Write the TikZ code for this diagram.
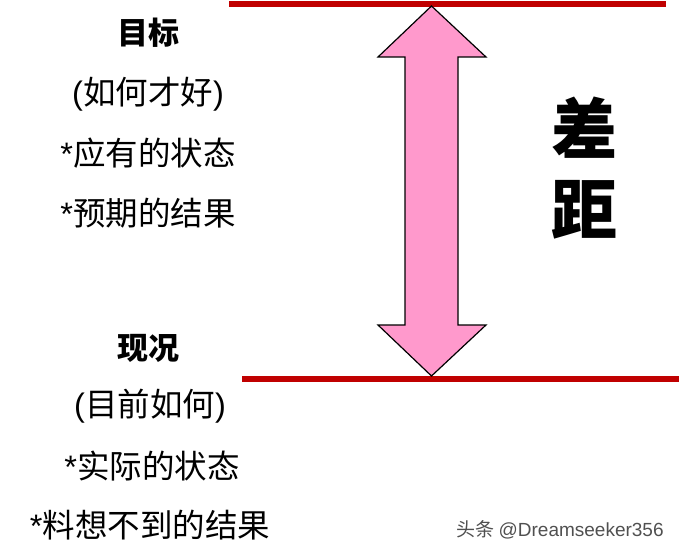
\documentclass[tikz,border=0pt]{standalone}
\usepackage{fontspec}
\newfontfamily\cjk{Noto Sans CJK SC}
\newfontfamily\latinsans{Liberation Sans}
\newcommand{\lat}[1]{{\latinsans #1}}
\definecolor{barred}{HTML}{C00000}
\definecolor{arrowpink}{HTML}{FF99CC}
\definecolor{wmgray}{HTML}{505050}
\begin{document}
\begin{tikzpicture}[x=1pt,y=-1pt,
  level/.style={draw=barred,line width=5.5pt},
  title/.style={inner sep=0pt,font=\cjk\bfseries\fontsize{31}{36}\selectfont},
  body/.style={inner sep=0pt,font=\cjk\fontsize{32.5}{36}\selectfont},
  gap/.style={inner sep=0pt,font=\cjk\bfseries\fontsize{66}{72}\selectfont},
  bigarrow/.style={draw=black,line width=1.2pt,fill=arrowpink,line join=miter}]
\useasboundingbox (0,0) rectangle (680,556);
% levels
\coordinate (tl) at (229,4);
\coordinate (tr) at (666,4);
\coordinate (bl) at (242,379);
\coordinate (br) at (679,379);
\draw[level] (tl) -- (tr);
\draw[level] (bl) -- (br);
% double arrow
\coordinate (top) at (431.5,6);
\coordinate (bot) at (431.5,376);
\draw[bigarrow] (top) -- (486,57) -- (458,57) -- (458,325) -- (486,325) -- (bot)
  -- (378,325) -- (405,325) -- (405,57) -- (378,57) -- cycle;
% gap label
\node[gap] (cha) at (584,128) {差};
\node[gap] (ju) at (584,210) {距};
% goal
\node[title] (goal) at (148,33) {目标};
\node[body] (g1) at (148,94) {\lat{(}如何才好\lat{)}};
\node[body] (g2) at (148,153) {\lat{*}应有的状态};
\node[body] (g3) at (148,213) {\lat{*}预期的结果};
% current
\node[title] (cur) at (148,348) {现况};
\node[body] (c1) at (150,406) {\lat{(}目前如何\lat{)}};
\node[body] (c2) at (152,466) {\lat{*}实际的状态};
\node[body] (c3) at (150,525) {\lat{*}料想不到的结果};
% watermark
\node[inner sep=0pt,text=wmgray,font=\cjk\fontsize{19}{22}\selectfont] (wm) at (560,530) {头条 \lat{@Dreamseeker356}};
\end{tikzpicture}
\end{document}
